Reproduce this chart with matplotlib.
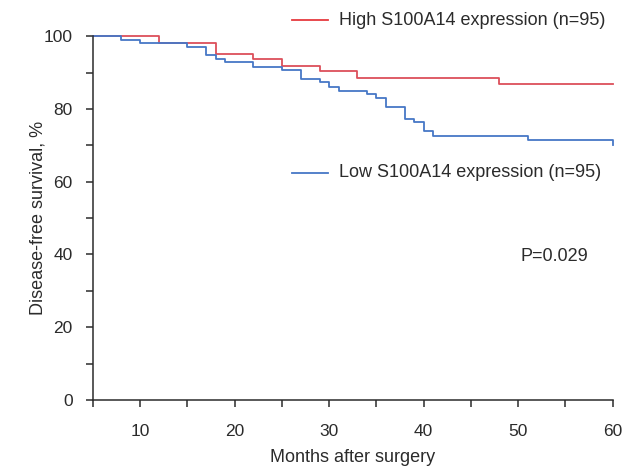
import matplotlib.pyplot as plt

plt.rcParams['font.family'] = ['Liberation Sans', 'DejaVu Sans']

# Step change times (months) and survival level (%) after each step
high_t = [5, 12, 18, 22, 25, 29, 33, 48, 60]
high_s = [100, 98.2, 95.1, 93.6, 91.9, 90.3, 88.6, 86.8, 86.8]

low_t = [5, 8, 10, 15, 17, 18, 19, 22, 25, 27, 29, 30, 31, 34, 35, 36, 38, 39,
         40, 41, 51, 60, 60]
low_s = [100, 99.0, 98.1, 97.0, 94.9, 93.8, 92.8, 91.5, 90.6, 88.3, 87.3, 86.1,
         85.0, 84.1, 82.9, 80.6, 77.2, 76.3, 74.0, 72.6, 71.5, 71.5, 70.0]

high_label = 'High S100A14 expression (n=95)'
low_label = 'Low S100A14 expression (n=95)'
p_text = 'P=0.029'

red = '#dc4f5b'
blue = '#4677c6'
ink = '#2b2b2b'

fig = plt.figure(figsize=(6.35, 4.67), dpi=100)
ax = fig.add_axes([0.146, 0.1435, 0.819, 0.779])

ax.step(high_t, high_s, where='post', color=red, linewidth=1.3, clip_on=False)
ax.step(low_t, low_s, where='post', color=blue, linewidth=1.3, clip_on=False)

ax.set_xlim(5, 60)
ax.set_ylim(0, 100)
ax.set_xticks(range(5, 61, 5))
ax.set_xticklabels(['' if v % 10 else str(v) for v in range(5, 61, 5)])
ax.set_yticks(range(0, 101, 10))
ax.set_yticklabels(['' if v % 20 else str(v) for v in range(0, 101, 10)])

for side in ['top', 'right']:
    ax.spines[side].set_visible(False)
for side in ['left', 'bottom']:
    ax.spines[side].set_color(ink)
    ax.spines[side].set_linewidth(1.1)
ax.tick_params(length=5, width=1.1, color=ink, labelcolor=ink, labelsize=12.5)
ax.tick_params(axis='x', pad=12)
ax.tick_params(axis='y', pad=9.5)

ax.set_xlabel('Months after surgery', fontsize=13, color=ink, labelpad=7.5)
ax.set_ylabel('Disease-free survival, %', fontsize=13, color=ink)
ax.yaxis.set_label_coords(-0.088, 0.5)

# Legend drawn by hand, as in the original
ax.plot([26.1, 29.9], [104.4, 104.4], color='#e63a3f', linewidth=1.3, clip_on=False)
ax.text(31.0, 104.4, high_label, fontsize=13, color=ink, va='center', ha='left')
ax.plot([26.1, 29.9], [62.4, 62.4], color=blue, linewidth=1.3, clip_on=False)
ax.text(31.0, 62.4, low_label, fontsize=13, color=ink, va='center', ha='left')

ax.text(50.2, 39.4, p_text, fontsize=13, color=ink, va='center', ha='left')

fig.savefig('out.png', dpi=100)
